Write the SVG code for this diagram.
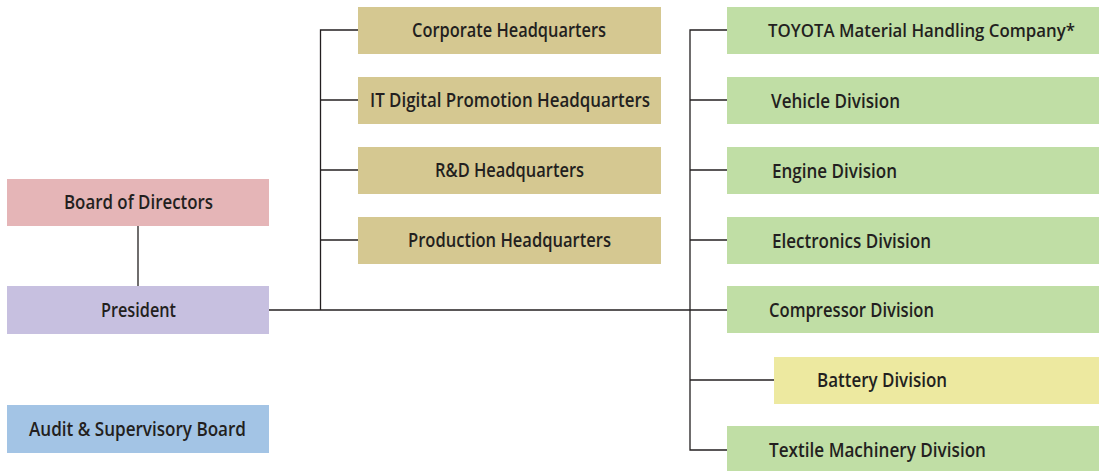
<svg xmlns="http://www.w3.org/2000/svg" width="1099" height="471" viewBox="0 0 1099 471">
<style>
.t{font-family:"Open Sans","Noto Sans","Liberation Sans",sans-serif;font-weight:600;font-size:19.5px;fill:#231f20}
.c{text-anchor:middle}
.ln{stroke:#231f20;stroke-width:1.3;fill:none}
.bod{fill:#e5b5b7}.pre{fill:#c7c0e0}.aud{fill:#a3c4e5}.hq{fill:#d5c891}.dv{fill:#c0dea5}.bat{fill:#ede9a0}
</style>
<rect width="1099" height="471" fill="#fff"/>
<g id="connectors" class="ln">
<line x1="138" y1="226" x2="138" y2="286"/>
<line x1="269" y1="310" x2="727" y2="310"/>
<polyline points="358,30 320.5,30 320.5,310"/>
<line x1="320.5" y1="100" x2="358" y2="100"/>
<line x1="320.5" y1="170" x2="358" y2="170"/>
<line x1="320.5" y1="240" x2="358" y2="240"/>
<polyline points="727,30 690,30 690,450 727,450"/>
<line x1="690" y1="100" x2="727" y2="100"/>
<line x1="690" y1="170" x2="727" y2="170"/>
<line x1="690" y1="240" x2="727" y2="240"/>
<line x1="690" y1="380" x2="774" y2="380"/>
</g>
<g id="board"><rect class="bod" x="7" y="179" width="262" height="47"/><text class="t c" x="138.5" y="209" textLength="149" lengthAdjust="spacingAndGlyphs">Board of Directors</text></g>
<g id="president"><rect class="pre" x="7" y="286" width="262" height="48"/><text class="t c" x="138.5" y="317" textLength="75" lengthAdjust="spacingAndGlyphs">President</text></g>
<g id="audit"><rect class="aud" x="7" y="405" width="262" height="48"/><text class="t c" x="137.5" y="436" textLength="217" lengthAdjust="spacingAndGlyphs">Audit &amp; Supervisory Board</text></g>
<g id="corporate"><rect class="hq" x="358" y="7" width="303" height="47"/><text class="t c" x="509" y="37" textLength="194" lengthAdjust="spacingAndGlyphs">Corporate Headquarters</text></g>
<g id="itdigital"><rect class="hq" x="358" y="77" width="303" height="47"/><text class="t c" x="510" y="107" textLength="280" lengthAdjust="spacingAndGlyphs">IT Digital Promotion Headquarters</text></g>
<g id="rd"><rect class="hq" x="358" y="147" width="303" height="47"/><text class="t c" x="509.5" y="177" textLength="149" lengthAdjust="spacingAndGlyphs">R&amp;D Headquarters</text></g>
<g id="production"><rect class="hq" x="358" y="217" width="303" height="47"/><text class="t c" x="509.5" y="247" textLength="203" lengthAdjust="spacingAndGlyphs">Production Headquarters</text></g>
<g id="toyota"><rect class="dv" x="727" y="7" width="372" height="47"/><text class="t" x="768" y="37" style="font-size:17.5px" textLength="307" lengthAdjust="spacingAndGlyphs">TOYOTA Material Handling Company*</text></g>
<g id="vehicle"><rect class="dv" x="727" y="77" width="372" height="47"/><text class="t" x="771" y="108" textLength="129" lengthAdjust="spacingAndGlyphs">Vehicle Division</text></g>
<g id="engine"><rect class="dv" x="727" y="147" width="372" height="47"/><text class="t" x="772" y="178" textLength="125" lengthAdjust="spacingAndGlyphs">Engine Division</text></g>
<g id="electronics"><rect class="dv" x="727" y="217" width="372" height="47"/><text class="t" x="772" y="248" textLength="159" lengthAdjust="spacingAndGlyphs">Electronics Division</text></g>
<g id="compressor"><rect class="dv" x="727" y="286" width="372" height="47"/><text class="t" x="769" y="317" textLength="165" lengthAdjust="spacingAndGlyphs">Compressor Division</text></g>
<g id="battery"><rect class="bat" x="774" y="357" width="325" height="47"/><text class="t" x="817" y="387" textLength="130" lengthAdjust="spacingAndGlyphs">Battery Division</text></g>
<g id="textile"><rect class="dv" x="727" y="426" width="372" height="45"/><text class="t" x="769" y="457" textLength="217" lengthAdjust="spacingAndGlyphs">Textile Machinery Division</text></g>
</svg>
